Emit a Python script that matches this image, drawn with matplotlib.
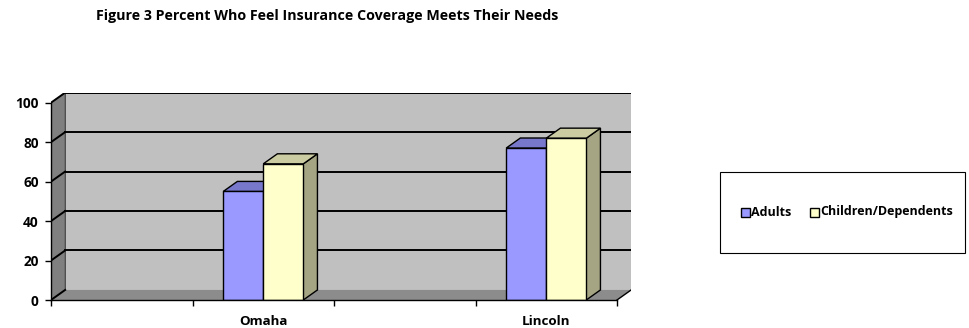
import matplotlib
matplotlib.use("Agg")
import matplotlib.pyplot as plt
from matplotlib.patches import Polygon, Rectangle

plt.rcParams['font.family'] = ['Open Sans', 'DejaVu Sans']

# Data
categories = ["", "Omaha", "", "Lincoln"]
adults = [None, 55, None, 77]
children = [None, 69, None, 82]
series_names = ["Adults", "Children/Dependents"]
yticks = [0, 20, 40, 60, 80, 100]
title = "Figure 3 Percent Who Feel Insurance Coverage Meets Their Needs"

# Colours
c_adult_front, c_adult_top, c_adult_side = "#9999FF", "#7777CC", "#6666AA"
c_child_front, c_child_top, c_child_side = "#FFFFCC", "#CCCCA3", "#A5A584"
c_wall, c_side_wall, c_floor = "#C0C0C0", "#808080", "#8C8C8C"

W, H, DPI = 969, 328, 100
fig = plt.figure(figsize=(W / DPI, H / DPI), dpi=DPI)

n = len(categories)
DX = 0.1      # depth offset, category units
DY = 5.1      # depth offset, value units
ymax = 100

ax_left, ax_right = 51, 51 + 566 * (n + DX) / n
ax_bottom_px = 300
ax_top_px = 300 - 197.3 * (ymax + DY) / ymax
ax = fig.add_axes([ax_left / W, (H - ax_bottom_px) / H,
                   (ax_right - ax_left) / W, (ax_bottom_px - ax_top_px) / H])
ax.set_xlim(0, n + DX)
ax.set_ylim(0, ymax + DY)
ax.set_facecolor("none")

# Walls and floor
ax.add_patch(Polygon([(0, 0), (DX, DY), (DX, ymax + DY), (0, ymax)],
                     closed=True, fc=c_side_wall, ec="#404040", lw=0.6, zorder=1))
ax.add_patch(Polygon([(DX, DY), (n + DX, DY), (n + DX, ymax + DY), (DX, ymax + DY)],
                     closed=True, fc=c_wall, ec="#404040", lw=0.6, zorder=1))
ax.add_patch(Polygon([(0, 0), (n, 0), (n + DX, DY), (DX, DY)],
                     closed=True, fc=c_floor, ec="none", lw=0, zorder=1))
ax.plot([n, n + DX], [0, DY], color="black", lw=1.0, zorder=2)

# Gridlines on back and side walls
for v in yticks:
    if v > 0:
        ax.plot([DX, n + DX], [v + DY, v + DY], color="black", lw=1.4, zorder=2)
    ax.plot([0, DX], [v, v + DY], color="black", lw=1.4, zorder=2)

# 3D bars
bw = 0.283


def bar3d(x0, h, front, top, side):
    x1 = x0 + bw
    ax.add_patch(Polygon([(x1, 0), (x1 + DX, DY), (x1 + DX, h + DY), (x1, h)],
                         closed=True, fc=side, ec="black", lw=1.0, zorder=3))
    ax.add_patch(Polygon([(x0, h), (x1, h), (x1 + DX, h + DY), (x0 + DX, h + DY)],
                         closed=True, fc=top, ec="black", lw=1.0, zorder=3))
    ax.add_patch(Rectangle((x0, 0), bw, h, fc=front, ec="black", lw=1.0, zorder=3))


for i in range(n):
    if adults[i] is None:
        continue
    c = i + 0.5
    bar3d(c - bw, adults[i], c_adult_front, c_adult_top, c_adult_side)
    bar3d(c, children[i], c_child_front, c_child_top, c_child_side)

# Axes styling
for s in ["top", "right"]:
    ax.spines[s].set_visible(False)
ax.spines["left"].set_bounds(0, ymax)
ax.spines["bottom"].set_bounds(0, n)
ax.spines["left"].set_linewidth(1.0)
ax.spines["bottom"].set_linewidth(1.0)
ax.spines["left"].set_zorder(4)
ax.spines["bottom"].set_zorder(4)
ax.set_yticks(yticks)
ax.set_yticklabels([str(v) for v in yticks], fontsize=9.8, fontweight="bold")
ax.set_xticks(range(n + 1))
ax.set_xticklabels([])
ax.set_xticks([i + 0.5 for i in range(n)], minor=True)
ax.set_xticklabels(categories, minor=True, fontsize=9.6, fontweight="bold")
ax.tick_params(axis="x", which="minor", length=0, pad=11)
ax.tick_params(axis="both", which="major", length=4, width=1.0, direction="out")
ax.tick_params(axis="y", pad=5)

# Title
fig.text(327 / W, 1 - 16 / H, title, ha="center", va="center",
         fontsize=10.3, fontweight="bold")

# Legend box
lx0, ly0, lx1, ly1 = 720, 172, 965, 253
fig.patches.append(Rectangle((lx0 / W, 1 - ly1 / H), (lx1 - lx0) / W, (ly1 - ly0) / H,
                             transform=fig.transFigure, fc="white", ec="black", lw=0.8))
ly = 212
for x_sq, x_txt, name, col in [(741, 751, series_names[0], c_adult_front),
                               (810, 820, series_names[1], c_child_front)]:
    fig.patches.append(Rectangle((x_sq / W, 1 - (ly + 4.5) / H), 9 / W, 9 / H,
                                 transform=fig.transFigure, fc=col, ec="black", lw=1.0))
    fig.text(x_txt / W, 1 - ly / H, name, ha="left", va="center",
             fontsize=9.0, fontweight="bold")

fig.savefig("out.png", dpi=DPI)
